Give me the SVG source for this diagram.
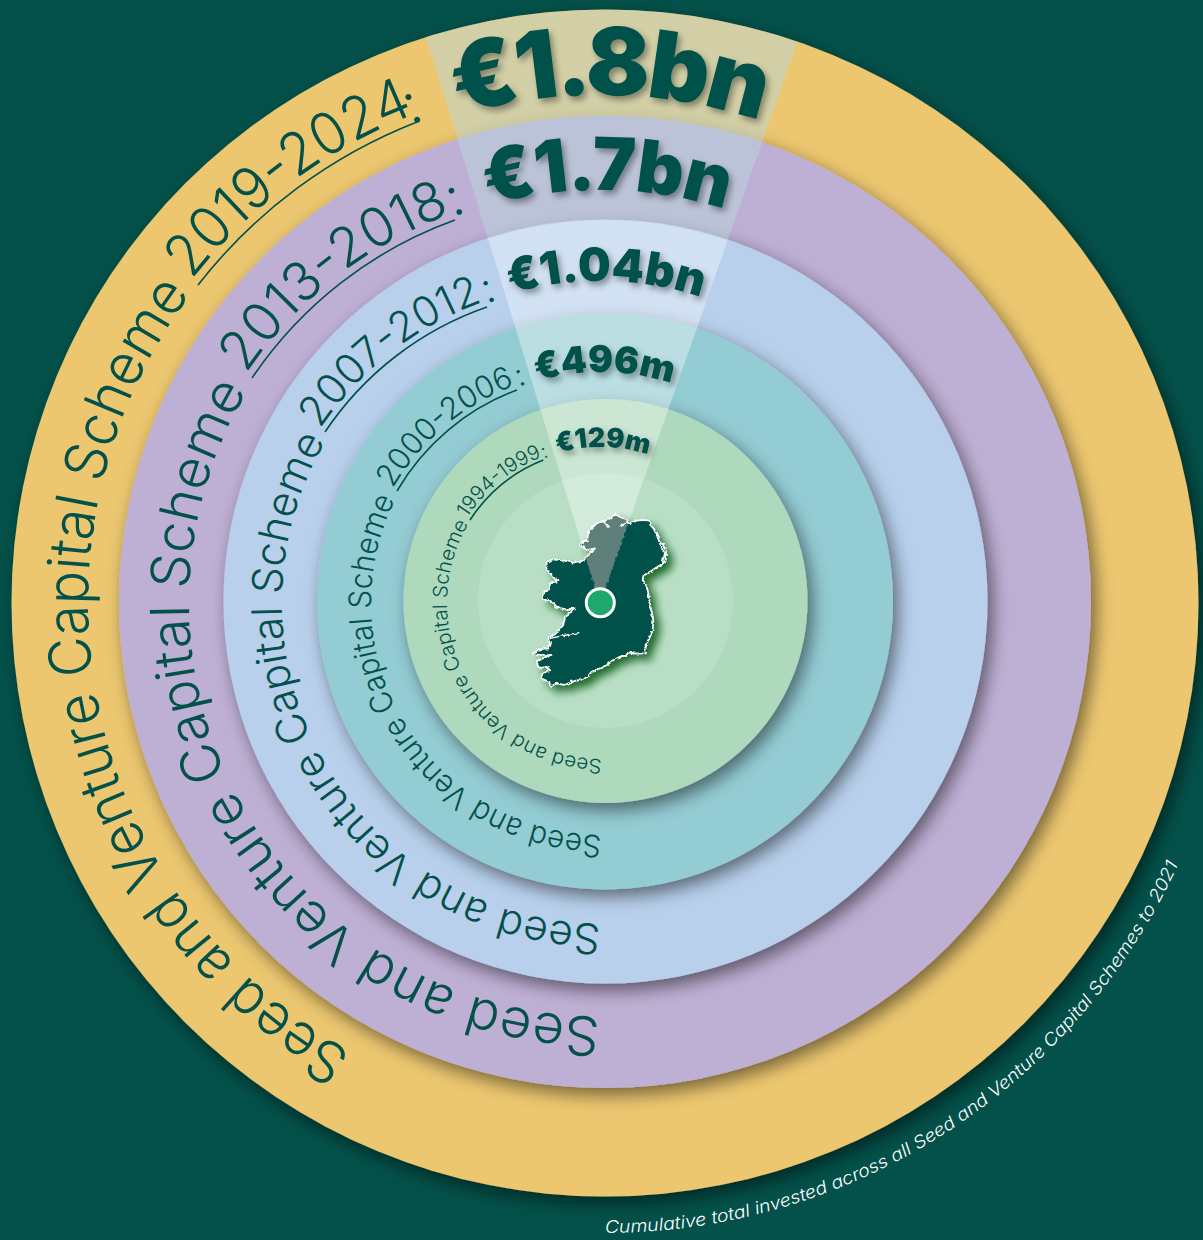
<svg xmlns="http://www.w3.org/2000/svg" xmlns:xlink="http://www.w3.org/1999/xlink" width="1203" height="1240" viewBox="0 0 1203 1240">
<style>
.thin{font-family:Inter,"Open Sans","Liberation Sans",sans-serif;font-weight:300;fill:#03514a}
.big{font-family:Inter,"Liberation Sans",sans-serif;font-weight:900;fill:#03514a;text-anchor:middle;filter:url(#ts)}
.ul{fill:none;stroke:#03514a;stroke-width:1.6}
.cap{font-family:Inter,"Open Sans","Liberation Sans",sans-serif;font-style:italic;font-weight:300;font-size:17.5px;fill:#fff}
.ring{filter:url(#ds)}
</style>
<defs>
<filter id="ds" x="-10%" y="-10%" width="120%" height="120%"><feDropShadow dx="5" dy="7" stdDeviation="8.5" flood-color="#000" flood-opacity=".5"/></filter>
<filter id="ts" x="-10%" y="-20%" width="120%" height="140%"><feDropShadow dx="3" dy="4" stdDeviation="3" flood-color="#000" flood-opacity=".38"/></filter>
<filter id="coast" x="-15%" y="-15%" width="130%" height="130%">
<feTurbulence type="fractalNoise" baseFrequency=".28" numOctaves="2" seed="4" result="n"/>
<feDisplacementMap in="SourceGraphic" in2="n" scale="4" xChannelSelector="R" yChannelSelector="G" result="d"/>
<feGaussianBlur in="SourceAlpha" stdDeviation="4" result="b"/>
<feOffset in="b" dx="6" dy="6" result="o"/>
<feFlood flood-color="#14601f" flood-opacity=".9"/><feComposite in2="o" operator="in" result="s"/>
<feMerge><feMergeNode in="s"/><feMergeNode in="d"/></feMerge>
</filter>
<radialGradient id="wg" gradientUnits="userSpaceOnUse" cx="605" cy="602" r="600">
<stop offset=".635" stop-color="#fff" stop-opacity=".36"/>
<stop offset=".638" stop-color="#b9d7dc" stop-opacity=".5"/>
<stop offset="1" stop-color="#b9d7dc" stop-opacity=".5"/>
</radialGradient>
<path id="p0" d="M603,1118A515,515 0 1 1 603,88A515,515 0 1 1 603,1118"/>
<path id="p1" d="M603,1017A414,414 0 1 1 603,189A414,414 0 1 1 603,1017"/>
<path id="p2" d="M603,924A321,321 0 1 1 603,282A321,321 0 1 1 603,924"/>
<path id="p3" d="M603,835A232,232 0 1 1 603,371A232,232 0 1 1 603,835"/>
<path id="p4" d="M603,759A156,156 0 1 1 603,447A156,156 0 1 1 603,759"/>
<path id="y0" d="M191.7,280A523,523 0 0 1 414,114.5"/>
<path id="y1" d="M246,374A418,418 0 0 1 452.5,213.5"/>
<path id="y2" d="M320,429A326,326 0 0 1 485,301.4"/>
<path id="y3" d="M392.6,488.6A237,237 0 0 1 515,385.4"/>
<path id="y4" d="M467,518A159,159 0 0 1 542,456.8"/>
<path id="b0" d="M600,1111A508,508 0 1 1 600,95A508,508 0 1 1 600,1111"/>
<path id="b1" d="M600,1016A413,413 0 1 1 600,190A413,413 0 1 1 600,1016"/>
<path id="b2" d="M600,925A322,322 0 1 1 600,281A322,322 0 1 1 600,925"/>
<path id="b3" d="M600,834A231,231 0 1 1 600,372A231,231 0 1 1 600,834"/>
<path id="b4" d="M600,759A156,156 0 1 1 600,447A156,156 0 1 1 600,759"/>
<path id="cp" d="M605,1233A630,630 0 0 0 1235,603"/>
<path id="ireland" d="M345,72L362,82L378,88L384,98L390,100L410,92L430,90L445,92L452,105L462,118L470,135L478,155L490,165L498,185L497,210L485,225L465,235L450,245L440,250L430,258L428,270L440,290L445,310L448,330L447,345L455,365L460,390L458,420L450,440L440,465L432,472L438,490L420,490L400,490L385,487L378,497L360,500L340,510L320,525L300,535L275,545L262,560L240,570L215,575L195,585L170,580L150,590L148,575L135,570L122,565L128,550L150,540L140,530L118,535L110,515L130,505L155,495L125,495L100,492L115,478L145,475L150,460L145,445L170,430L190,405L195,380L215,365L225,355L195,358L170,350L155,335L130,328L128,310L150,295L150,280L175,272L160,262L148,245L140,235L140,215L160,208L190,212L220,218L250,212L265,195L285,175L265,180L245,170L240,160L262,150L265,125L290,100L320,90L330,85Z"/>
<clipPath id="irc"><use href="#ireland"/></clipPath>
</defs>

<rect id="background" width="1203" height="1240" fill="#03514a"/>

<g id="ring-2019-2024"><circle class="ring" cx="605" cy="603" r="593.5" fill="#ecc770"/></g>
<g id="ring-2013-2018"><circle class="ring" cx="605" cy="602" r="486" fill="#beafd4"/></g>
<g id="ring-2007-2012"><circle class="ring" cx="605.5" cy="601.5" r="382" fill="#b8d0ec"/></g>
<g id="ring-2000-2006"><circle class="ring" cx="605" cy="601.5" r="288" fill="#94ccd4"/></g>
<g id="ring-1994-1999"><circle class="ring" cx="605.5" cy="601" r="202" fill="#aed9bc"/></g>
<g id="ring-core"><circle cx="605.5" cy="600.5" r="127.5" fill="#b8dfc6"/></g>

<path id="wedge" d="M600,604L426.2,37A593.5,593.5 0 0 1 797.3,42Z" fill="url(#wg)"/>

<g id="labels-outer">
<text class="thin" font-size="58"><textPath href="#p0" startOffset="8.1%" textLength="878" lengthAdjust="spacingAndGlyphs">Seed and Venture Capital Scheme</textPath></text>
<text class="thin" font-size="58"><textPath href="#y0" textLength="281" lengthAdjust="spacingAndGlyphs">2019-2024</textPath></text>
<text class="thin" font-size="58"><textPath href="#p0" startOffset="43.9%">:</textPath></text>
<path class="ul" stroke-width="2" d="M198,285A515,515 0 0 1 417,122"/>
</g>
<g id="labels-purple">
<text class="thin" font-size="54"><textPath href="#p1" startOffset="0.1%" textLength="870" lengthAdjust="spacingAndGlyphs">Seed and Venture Capital Scheme</textPath></text>
<text class="thin" font-size="54"><textPath href="#y1" textLength="264" lengthAdjust="spacingAndGlyphs">2013-2018</textPath></text>
<text class="thin" font-size="54"><textPath href="#p1" startOffset="44.1%">:</textPath></text>
<path class="ul" d="M252,378A414,414 0 0 1 455,220"/>
</g>
<g id="labels-blue">
<text class="thin" font-size="42"><textPath href="#p2" startOffset="0.1%" textLength="672" lengthAdjust="spacingAndGlyphs">Seed and Venture Capital Scheme</textPath></text>
<text class="thin" font-size="42"><textPath href="#y2" textLength="210" lengthAdjust="spacingAndGlyphs">2007-2012</textPath></text>
<text class="thin" font-size="42"><textPath href="#p2" startOffset="44.1%">:</textPath></text>
<path class="ul" d="M325,432A321,321 0 0 1 487,307"/>
</g>
<g id="labels-teal">
<text class="thin" font-size="31"><textPath href="#p3" startOffset="0.1%" textLength="470" lengthAdjust="spacingAndGlyphs">Seed and Venture Capital Scheme</textPath></text>
<text class="thin" font-size="31"><textPath href="#y3" textLength="163" lengthAdjust="spacingAndGlyphs">2000-2006</textPath></text>
<text class="thin" font-size="31"><textPath href="#p3" startOffset="44.1%">:</textPath></text>
<path class="ul" d="M397,491A232,232 0 0 1 517,390"/>
</g>
<g id="labels-green">
<text class="thin" font-size="20"><textPath href="#p4" startOffset="0.1%" textLength="327" lengthAdjust="spacingAndGlyphs">Seed and Venture Capital Scheme</textPath></text>
<text class="thin" font-size="20"><textPath href="#y4" textLength="98" lengthAdjust="spacingAndGlyphs">1994-1999</textPath></text>
<text class="thin" font-size="20"><textPath href="#p4" startOffset="43.8%">:</textPath></text>
<path class="ul" stroke-width="1.2" d="M470,520A156,156 0 0 1 543.3,460"/>
</g>

<g id="amounts">
<text class="big" font-size="94" letter-spacing="-3.8"><textPath href="#b0" startOffset="50.25%">€1.8bn</textPath></text>
<text class="big" font-size="73" letter-spacing="-1.3"><textPath href="#b1" startOffset="50.25%">€1.7bn</textPath></text>
<text class="big" font-size="46"><textPath href="#b2" startOffset="50.3%">€1.04bn</textPath></text>
<text class="big" font-size="37"><textPath href="#b3" startOffset="50.3%">€496m</textPath></text>
<text class="big" font-size="27"><textPath href="#b4" startOffset="50.3%">€129m</textPath></text>
</g>

<g id="ireland-map" filter="url(#coast)">
<g transform="translate(500,490) scale(.33333)">
<use href="#ireland" fill="#03514a"/>
<polygon points="300,342 195,0 420,0" fill="#5f807a" clip-path="url(#irc)"/>
<use href="#ireland" fill="none" stroke="#fff" stroke-width="5" stroke-linejoin="round"/>
<path d="M358,108L383,98M310,95L330,115M480,165L495,190L485,225M150,445L215,432L238,428M225,355L200,362" fill="none" stroke="#fff" stroke-width="4"/>
</g>
</g>
<g id="location-dot"><circle cx="600.3" cy="602.7" r="14" fill="#1fa86b" stroke="#fff" stroke-width="3"/></g>

<g id="caption"><text class="cap"><textPath href="#cp" startOffset="0" textLength="720" lengthAdjust="spacingAndGlyphs">Cumulative total invested across all Seed and Venture Capital Schemes to 2021</textPath></text></g>
</svg>
